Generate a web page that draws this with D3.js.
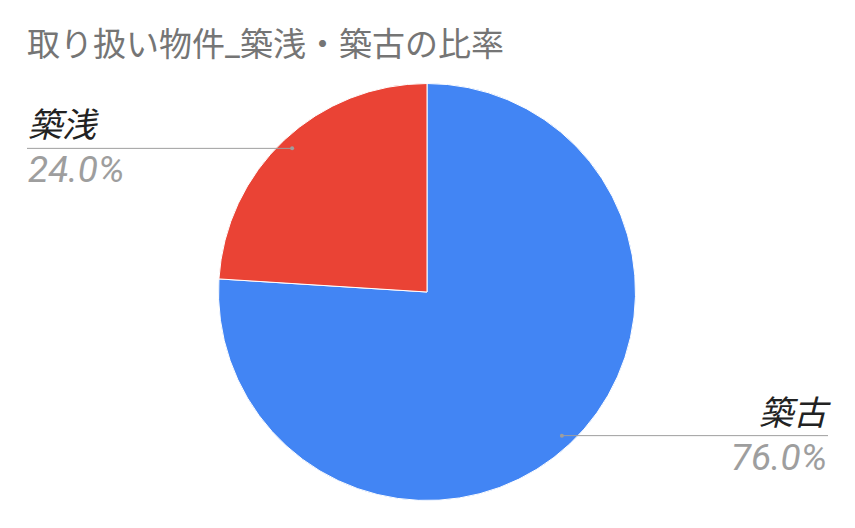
<!DOCTYPE html>
<html><head><meta charset="utf-8">
<script src="https://cdn.jsdelivr.net/npm/d3@7"></script>
<style>html,body{margin:0;padding:0;background:#fff;}</style>
</head><body>
<svg id="c" width="855" height="528"></svg>
<script>
const title = "取り扱い物件_築浅・築古の比率";
const categories = ["築古", "築浅"];
const values = [76.0, 24.0];
const colors = ["#4285f4", "#ea4335"];

const svg = d3.select("#c");
const W = 855, H = 528;
svg.append("rect").attr("width", W).attr("height", H).attr("fill", "#fff");

const cx = 427, cy = 292, R = 208.5;
const font = "Roboto, 'Noto Sans CJK JP', sans-serif";

svg.append("text").attr("x", 27).attr("y", 56)
  .attr("font-family", font).attr("font-size", 33).attr("fill", "#757575")
  .text(title);

const data = categories.map((c, i) => ({cat: c, value: values[i], color: colors[i]}));
const pie = d3.pie().value(d => d.value).sort(null);
const arcs = pie(data);
const arc = d3.arc().innerRadius(0).outerRadius(R);
const g = svg.append("g").attr("transform", `translate(${cx},${cy})`);
g.selectAll("path").data(arcs).join("path")
  .attr("d", arc).attr("fill", d => d.data.color)
  .attr("stroke", "#fff").attr("stroke-width", 1);

const total = d3.sum(values);
const fmt = v => (v / total * 100).toFixed(1) + "%";
const lineArc = d3.arc().innerRadius(R * 0.945).outerRadius(R * 0.945);

arcs.forEach(a => {
  const [px, py] = lineArc.centroid(a);
  const dx = cx + px, dy = cy + py;
  const right = px > 0;
  const x2 = right ? 828 : 27;
  svg.append("line").attr("x1", dx).attr("y1", dy).attr("x2", x2).attr("y2", dy)
    .attr("stroke", "#9e9e9e").attr("stroke-width", 1);
  svg.append("circle").attr("cx", dx).attr("cy", dy).attr("r", 2).attr("fill", "#9e9e9e");
  const anchor = right ? "end" : "start";
  const tx = right ? 827 : 28;
  svg.append("text").attr("x", tx).attr("y", dy - 11)
    .attr("text-anchor", anchor).attr("font-family", font).attr("font-style", "italic")
    .attr("font-size", 34).attr("fill", "#222").text(a.data.cat);
  svg.append("text").attr("x", tx).attr("y", dy + 34)
    .attr("text-anchor", anchor).attr("font-family", font).attr("font-style", "italic")
    .attr("font-size", 37).attr("fill", "#9e9e9e").text(fmt(a.data.value));
});
</script>
</body></html>
